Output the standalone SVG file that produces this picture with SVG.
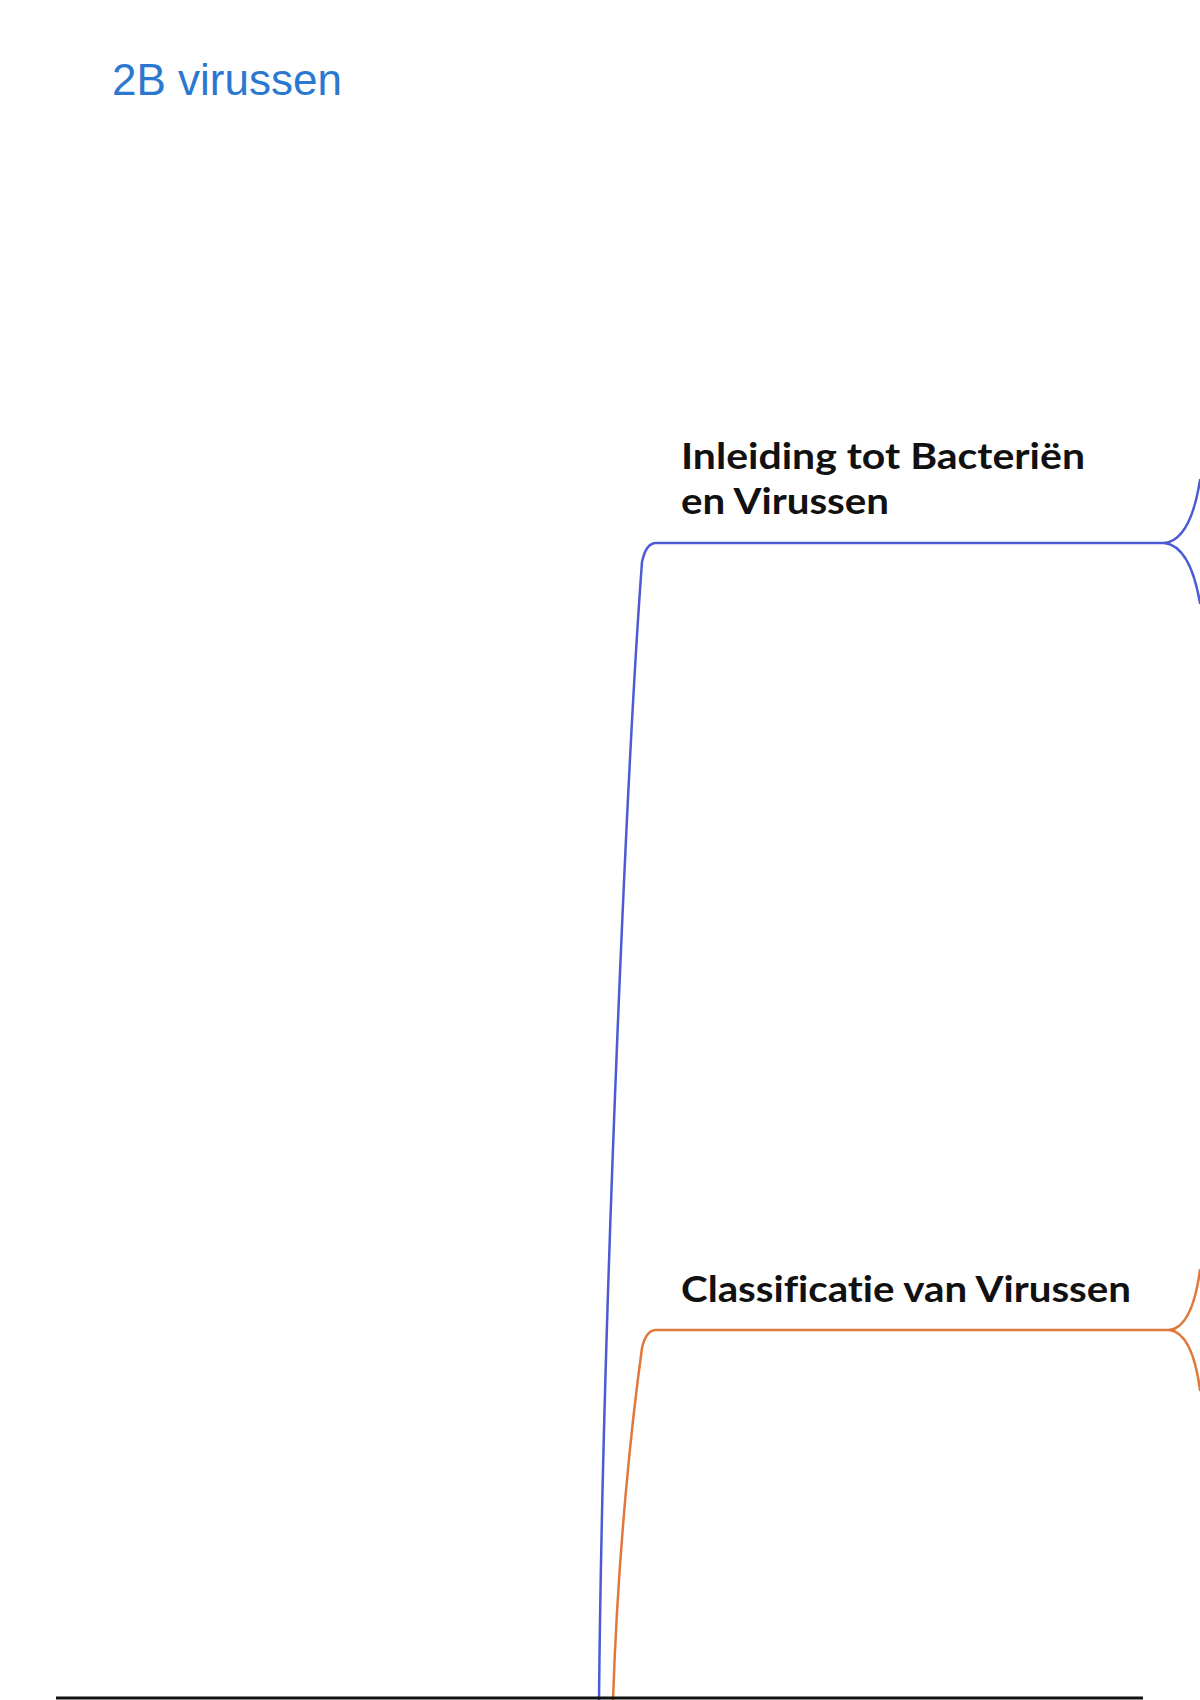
<svg xmlns="http://www.w3.org/2000/svg" width="1200" height="1700" viewBox="0 0 1200 1700">
  <style>
    .title { font-family: "Liberation Sans", Arial, sans-serif; font-size: 44px; fill: #2b78d0; }
    .topic { font-family: Lato, "Noto Sans", sans-serif; font-weight: bold; font-size: 36px; fill: #111111; font-variant-ligatures: none; }
    .blue { fill: none; stroke: #4c5bd4; stroke-width: 2.5; stroke-linecap: round; }
    .orange { fill: none; stroke: #e0783c; stroke-width: 2.5; stroke-linecap: round; }
  </style>
  <rect x="0" y="0" width="1200" height="1700" fill="#ffffff"/>
  <g id="title">
    <text class="title" x="112" y="95">2B virussen</text>
  </g>
  <g id="connectors">
    <path class="blue" d="M1165,543 L656,543 Q646,543 642,562 C628,750 603,1300 599,1700"/>
    <path class="blue" d="M1165,543 C1185,540 1195,512 1200,480"/>
    <path class="blue" d="M1165,543 C1185,546 1195,574 1200,603"/>
    <path class="orange" d="M1170,1330 L656,1330 Q646,1330 642,1348 C632,1420 618,1550 613,1700"/>
    <path class="orange" d="M1170,1330 C1188,1327 1196,1300 1200,1270"/>
    <path class="orange" d="M1170,1330 C1188,1333 1196,1360 1200,1390"/>
  </g>
  <g id="node-inleiding">
    <text class="topic" x="681" y="469" textLength="404" lengthAdjust="spacingAndGlyphs">Inleiding tot Bacteriën</text>
    <text class="topic" x="681" y="514" textLength="208" lengthAdjust="spacingAndGlyphs">en Virussen</text>
  </g>
  <g id="node-classificatie">
    <text class="topic" x="681" y="1302" textLength="450" lengthAdjust="spacingAndGlyphs">Classificatie van Virussen</text>
  </g>
  <g id="baseline">
    <line x1="56" y1="1698" x2="1143" y2="1698" stroke="#111111" stroke-width="3"/>
  </g>
</svg>
